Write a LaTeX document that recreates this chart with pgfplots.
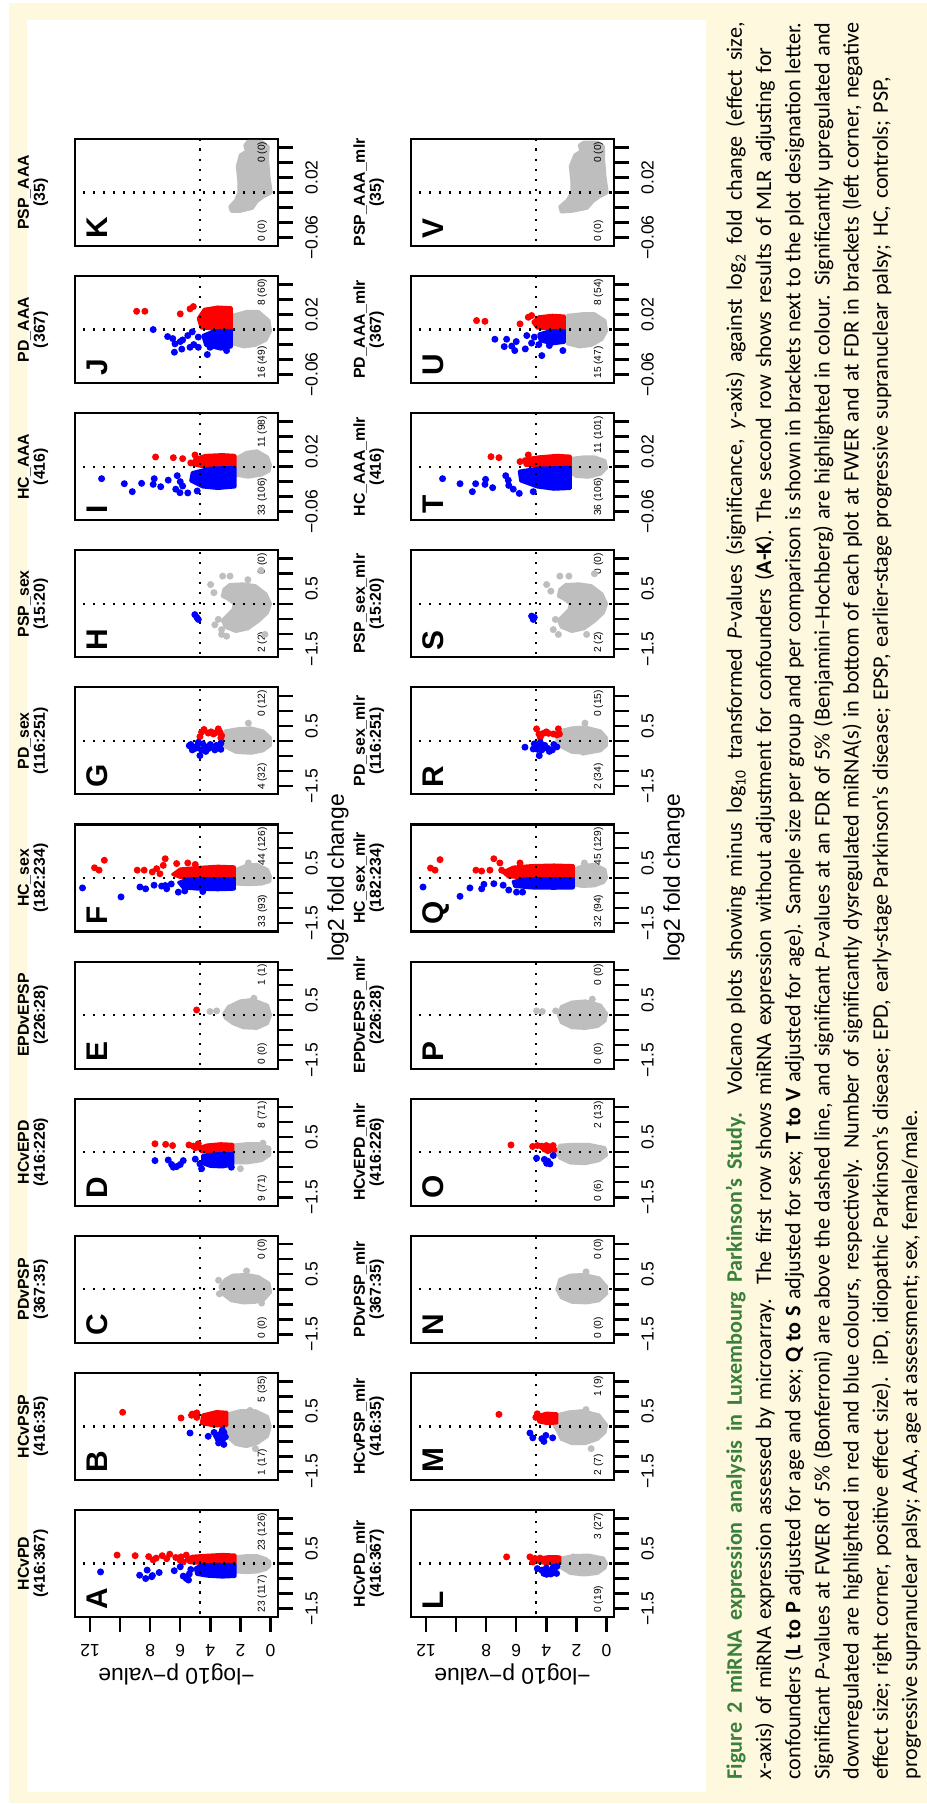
\documentclass[border=0pt]{standalone}
\usepackage{graphicx}
\usepackage{pgfplots}
\pgfplotsset{compat=1.18}
\usepackage{fontspec}
\setmainfont{Liberation Sans}
\newfontfamily\capfont{Carlito}
\definecolor{Rgray}{RGB}{190,190,190}
\definecolor{Rred}{RGB}{255,0,0}
\definecolor{Rblue}{RGB}{0,0,255}
\definecolor{cream}{RGB}{254,248,222}
\definecolor{capgreen}{RGB}{58,128,60}

\pgfplotsset{
  vol/.style={scale only axis, width=10.7mm, height=20.3mm, anchor=south west,
    ymin=-0.5, ymax=13, ytick=\empty,
    axis line style={line width=0.6pt},
    tick align=outside, xtick pos=left, ytick pos=left,
    major tick length=1.5mm, tick style={black, line width=0.7pt},
    ticklabel style={font=\fontsize{5}{6}\selectfont},
    scaled x ticks=false,
    title style={font=\fontsize{4.5}{4.6}\selectfont\bfseries, align=center,
      at={(0.5,1)}, anchor=south, inner sep=0pt, yshift=0.5mm}},
  fc/.style={xmin=-1.78, xmax=1.78, xtick={-1.5,-1,-0.5,0,0.5,1,1.5},
    xticklabels={−1.5,,,,0.5,,}},
  aaa/.style={xmin=-0.0713, xmax=0.0713, xtick={-0.06,-0.04,-0.02,0,0.02,0.04,0.06},
    xticklabels={−0.06,,,,0.02,,}},
  yax/.style={ytick={0,2,4,6,8,10,12}, yticklabels={0,2,4,6,8,,12},
    yticklabel style={rotate=90, anchor=south},
    ylabel={−log10 p−value},
    ylabel style={at={(axis description cs:-0.54,0.5)}, anchor=center,
      font=\fontsize{6.5}{7}\selectfont}},
  xlab/.style={xlabel={log2 fold change},
    xlabel style={at={(axis description cs:0.5,-0.296)}, anchor=center,
      font=\fontsize{6.5}{7}\selectfont}},
}
% filled cloud of dense points, and single points
\newcommand\cld[2]{\addplot[fill=#1, draw=#1, line width=0.9pt, line join=round, mark=none] coordinates {#2} --cycle;}
\newcommand\pts[2]{\addplot[only marks, mark=*, mark size=0.78pt, color=#1, mark options={draw=none, fill=#1}] coordinates {#2};}
\newcommand\deco[3]{%
  \addplot[black, line width=0.65pt, dash pattern=on 0.6pt off 2.25pt, mark=none] coordinates {(0,-1)(0,14)};
  \addplot[black, line width=0.65pt, dash pattern=on 0.6pt off 2.25pt, mark=none] coordinates {(-2,4.69)(2,4.69)};
  \node[font=\fontsize{8.5}{9}\selectfont\bfseries, anchor=base west, inner sep=0pt] at (rel axis cs:0.06,0.842) {#1};
  \node[font=\fontsize{2.9}{3}\selectfont, anchor=base west, inner sep=0pt] at (rel axis cs:0.035,0.064) {#2};
  \node[font=\fontsize{2.9}{3}\selectfont, anchor=base east, inner sep=0pt] at (rel axis cs:0.98,0.064) {#3};}

\begin{document}
\rotatebox{90}{%
\begin{tikzpicture}
\fill[white] (0,0) rectangle (180.4mm,92.7mm);
\fill[cream] (0.1mm,0mm) rectangle (180.1mm,91.8mm);
\fill[white] (1.2mm,22.1mm) rectangle (178.4mm,90.0mm);
\useasboundingbox (0,0) rectangle (180.4mm,92.7mm);

% ---------------- first row ----------------
\begin{axis}[vol, fc, yax, at={(18.7mm,64.9mm)}, title={HCvPD\\(416:367)}]
\cld{Rgray}{(0.05,2.45)(0.22,2.3)(0.26,1.6)(0.26,0.9)(0.16,0.3)(0.06,0.05)(-0.08,0.05)(-0.2,0.3)(-0.28,0.9)(-0.3,1.6)(-0.28,2.3)(-0.1,2.45)}
\cld{Rred}{(0.0,2.35)(0.28,2.35)(0.3,3.2)(0.27,4.3)(0.24,5.2)(0.14,5.6)(0.03,5.4)(0.0,4.5)}
\pts{Rred}{(0.28,10.2)(0.26,9.0)(0.23,8.1)(0.12,7.8)(0.18,7.6)(0.26,7.2)(0.31,6.7)(0.20,6.3)(0.22,5.95)(0.10,6.0)(0.28,5.6)(0.05,5.8)(0.16,6.9)}
\cld{Rblue}{(-0.03,2.35)(-0.43,2.35)(-0.45,3.2)(-0.42,4.2)(-0.36,4.9)(-0.15,5.0)(-0.05,4.6)(-0.03,3.5)}
\pts{Rblue}{(-0.28,11.3)(-0.39,8.7)(-0.22,8.2)(-0.50,8.3)(-0.44,7.9)(-0.40,7.85)(-0.30,7.4)(-0.24,6.4)(-0.11,6.0)(-0.42,5.8)(-0.50,5.6)(-0.55,5.45)(-0.35,5.4)(-0.2,5.3)}
\deco{A}{23 (117)}{23 (126)}
\end{axis}

\begin{axis}[vol, fc, at={(32.41mm,64.9mm)}, title={HCvPSP\\(416:35)}]
\cld{Rgray}{(0.10,3.0)(0.42,2.8)(0.52,2.0)(0.52,1.0)(0.33,0.2)(0.0,0.02)(-0.33,0.2)(-0.57,0.9)(-0.67,1.6)(-0.6,2.3)(-0.33,2.9)}
\pts{Rgray}{(0.53,1.36)(-0.74,1.0)}
\cld{Rred}{(0.03,2.9)(0.47,2.9)(0.49,3.6)(0.38,4.5)(0.10,4.6)(0.02,3.8)}
\pts{Rred}{(0.47,9.83)(0.28,5.95)(0.37,5.25)(0.41,5.2)(0.45,4.9)(0.3,4.9)}
\pts{Rblue}{(-0.22,5.35)(-0.33,4.14)(-0.2,3.75)(-0.3,3.6)(-0.4,3.5)(-0.55,3.45)(-0.45,3.2)(-0.35,3.0)(-0.2,3.1)(-0.12,3.2)(-0.6,3.1)(-0.25,3.3)}
\deco{B}{1 (17)}{5 (35)}
\end{axis}

\begin{axis}[vol, fc, at={(46.12mm,64.9mm)}, title={PDvPSP\\(367:35)}]
\cld{Rgray}{(0.1,3.35)(0.33,3.0)(0.47,2.5)(0.49,1.6)(0.42,0.8)(0.2,0.1)(-0.1,0.0)(-0.33,0.4)(-0.43,1.0)(-0.45,1.8)(-0.38,2.6)(-0.15,3.2)}
\pts{Rgray}{(0.61,1.59)(-0.46,0.59)(0.3,3.45)(-0.15,3.4)}
\deco{C}{0 (0)}{0 (0)}
\end{axis}

\begin{axis}[vol, fc, at={(59.83mm,64.9mm)}, title={HCvEPD\\(416:226)}]
\cld{Rgray}{(0.0,2.75)(0.23,2.6)(0.28,1.6)(0.28,0.8)(0.15,0.05)(-0.1,0.05)(-0.28,0.6)(-0.35,1.5)(-0.35,2.3)(-0.2,2.7)}
\pts{Rgray}{(-0.55,2.0)(0.3,0.5)}
\cld{Rred}{(0.0,2.5)(0.26,2.5)(0.28,3.3)(0.24,4.2)(0.14,4.8)(0.02,4.6)}
\pts{Rred}{(0.28,7.68)(0.26,6.97)(0.22,6.51)(0.24,5.42)(0.2,5.13)(0.28,4.8)(0.15,5.0)}
\cld{Rblue}{(-0.05,2.5)(-0.42,2.5)(-0.49,3.2)(-0.47,4.0)(-0.38,4.5)(-0.1,4.5)(-0.05,3.5)}
\pts{Rblue}{(-0.28,7.68)(-0.26,6.8)(-0.41,6.57)(-0.5,6.46)(-0.48,6.24)(-0.41,6.0)(-0.28,5.8)(-0.23,5.0)(-0.39,4.69)(-0.55,4.58)(-0.5,2.6)}
\deco{D}{9 (71)}{8 (71)}
\end{axis}

\begin{axis}[vol, fc, at={(73.54mm,64.9mm)}, title={EPDvEPSP\\(226:28)}]
\cld{Rgray}{(0.05,3.1)(0.28,2.8)(0.47,2.0)(0.52,1.2)(0.33,0.2)(0.0,0.0)(-0.28,0.2)(-0.44,0.9)(-0.42,1.8)(-0.28,2.5)(-0.1,3.0)}
\pts{Rgray}{(0.12,4.02)(0.14,3.58)(0.56,1.1)}
\pts{Rred}{(0.17,4.91)}
\deco{E}{0 (0)}{1 (1)}
\end{axis}

\begin{axis}[vol, fc, xlab, at={(87.25mm,64.9mm)}, title={HC\_sex\\(182:234)}]
\cld{Rgray}{(0.02,2.45)(0.28,2.3)(0.42,1.6)(0.45,0.9)(0.28,0.2)(0.05,0.0)(-0.12,0.05)(-0.2,0.6)(-0.22,1.5)(-0.2,2.3)}
\pts{Rgray}{(0.5,1.47)}
\cld{Rred}{(0.0,2.4)(0.37,2.4)(0.39,3.5)(0.35,4.8)(0.3,6.0)(0.12,6.5)(0.02,6.0)}
\pts{Rred}{(0.34,11.7)(0.26,11.4)(0.59,11.05)(0.26,8.86)(0.26,8.4)(0.2,7.86)(0.31,7.57)(0.14,7.35)(0.42,7.13)(0.64,7.0)(0.48,6.24)(0.5,5.5)(0.45,5.0)}
\cld{Rblue}{(-0.02,2.4)(-0.37,2.4)(-0.39,3.5)(-0.37,4.8)(-0.33,5.8)(-0.15,6.1)(-0.03,5.5)}
\pts{Rblue}{(-0.33,12.5)(-0.63,9.94)(-0.3,8.68)(-0.36,8.3)(-0.24,7.74)(-0.27,7.24)(-0.36,6.9)(-0.47,6.13)(-0.43,5.7)(-0.2,6.6)(-0.25,7.0)(-0.45,4.5)}
\deco{F}{33 (93)}{44 (126)}
\end{axis}

\begin{axis}[vol, fc, at={(100.96mm,64.9mm)}, title={PD\_sex\\(116:251)}]
\cld{Rgray}{(0.05,3.2)(0.33,3.0)(0.4,2.2)(0.43,1.3)(0.33,0.5)(0.1,0.0)(-0.15,0.0)(-0.33,0.5)(-0.41,1.3)(-0.38,2.3)(-0.2,3.0)}
\pts{Rgray}{(0.59,1.47)}
\pts{Rred}{(0.14,4.69)(0.29,4.58)(0.38,4.42)(0.26,4.14)(0.3,3.95)(0.26,3.69)(0.23,3.8)(0.4,3.47)(0.29,3.36)(0.18,3.25)(0.1,3.3)}
\pts{Rblue}{(-0.16,5.4)(-0.12,5.3)(-0.2,5.2)(-0.25,5.0)(-0.18,4.9)(-0.49,4.69)(-0.3,4.6)(-0.1,4.5)(-0.2,4.3)(-0.25,4.1)(-0.12,4.0)(-0.22,3.8)(-0.3,3.7)(-0.15,3.6)(-0.2,3.4)(-0.08,3.3)(-0.28,3.3)(-0.05,4.8)(-0.35,4.3)(-0.3,5.2)}
\deco{G}{4 (32)}{0 (12)}
\end{axis}

\begin{axis}[vol, fc, at={(114.67mm,64.9mm)}, title={PSP\_sex\\(15:20)}]
\cld{Rgray}{(0.0,0.0)(0.33,0.3)(0.6,1.0)(0.66,1.8)(0.64,2.7)(0.48,3.1)(0.25,3.2)(0.15,2.8)(0.0,2.4)(-0.2,2.5)(-0.4,2.9)(-0.55,3.2)(-0.78,3.0)(-0.92,2.3)(-0.83,1.5)(-0.58,0.8)(-0.3,0.2)}
\pts{Rgray}{(0.64,3.98)(0.37,3.76)(0.92,3.18)(0.92,2.69)(-0.52,3.47)(-0.86,3.25)(-1.08,2.92)(-1.02,3.25)(1.11,0.63)(-1.02,0.37)(0.8,1.5)(-0.7,3.7)}
\pts{Rblue}{(-0.36,5.03)(-0.52,4.8)(-0.45,4.9)}
\deco{H}{2 (2)}{0 (0)}
\end{axis}

\begin{axis}[vol, aaa, at={(128.38mm,64.9mm)}, title={HC\_AAA\\(416)}]
\cld{Rgray}{(0.001,2.45)(0.011,2.3)(0.019,1.6)(0.021,0.9)(0.013,0.2)(0.002,0.0)(-0.006,0.1)(-0.011,0.6)(-0.014,1.5)(-0.011,2.3)}
\cld{Rred}{(0.0,2.36)(0.015,2.36)(0.016,3.2)(0.015,4.3)(0.011,5.0)(0.003,5.2)(0.0,4.5)}
\pts{Rred}{(0.0129,7.64)(0.012,6.46)(0.0107,5.84)(0.0156,5.02)(0.005,5.3)}
\cld{Rblue}{(-0.001,2.36)(-0.027,2.36)(-0.029,3.5)(-0.027,4.5)(-0.019,5.3)(-0.008,5.2)(-0.002,4.0)}
\pts{Rblue}{(-0.016,11.23)(-0.0227,9.72)(-0.0333,9.19)(-0.0222,8.57)(-0.0236,7.8)(-0.016,7.73)(-0.0267,7.3)(-0.018,6.8)(-0.0347,6.02)(-0.0258,5.84)(-0.0324,4.87)(-0.03,6.3)(-0.012,6.2)(-0.035,5.5)(-0.02,6.0)}
\deco{I}{33 (106)}{11 (98)}
\end{axis}

\begin{axis}[vol, aaa, at={(142.09mm,64.9mm)}, title={PD\_AAA\\(367)}]
\cld{Rgray}{(0.003,2.7)(0.019,2.5)(0.024,1.6)(0.024,0.8)(0.012,0.1)(-0.002,0.0)(-0.014,0.3)(-0.021,1.0)(-0.023,1.8)(-0.019,2.5)}
\cld{Rred}{(0.0,2.6)(0.029,2.6)(0.03,3.5)(0.027,4.4)(0.015,4.8)(0.002,4.6)}
\pts{Rred}{(0.0244,8.9)(0.0244,8.35)(0.0209,6.0)(0.0276,5.35)(0.0307,5.13)}
\cld{Rblue}{(-0.001,2.6)(-0.023,2.6)(-0.026,3.3)(-0.021,4.3)(-0.008,4.5)(-0.002,3.8)}
\pts{Rblue}{(0,7.8)(-0.0093,6.84)(-0.019,6.35)(-0.0302,6.39)(-0.0138,5.84)(-0.0236,5.35)(-0.0236,4.8)(-0.0333,4.2)(-0.0236,4.02)(-0.028,2.92)(-0.012,6.5)(-0.016,6.0)(-0.008,5.5)(-0.026,5.9)(-0.02,5.1)(-0.01,4.8)(-0.003,5.2)}
\deco{J}{16 (49)}{8 (60)}
\end{axis}

\begin{axis}[vol, aaa, at={(155.8mm,64.9mm)}, title={PSP\_AAA\\(35)}]
\cld{Rgray}{(0.0,-0.05)(0.02,0.1)(0.045,0.2)(0.061,0.15)(0.068,0.6)(0.068,1.5)(0.063,1.7)(0.055,1.6)(0.05,2.0)(0.035,2.2)(0.015,2.1)(0.0,2.1)(-0.01,2.3)(-0.019,2.7)(-0.025,2.6)(-0.025,2.0)(-0.021,1.2)(-0.012,0.9)(-0.006,0.5)(-0.002,0.1)}
\deco{K}{0 (0)}{0 (0)}
\end{axis}

% ---------------- second row ----------------
\begin{axis}[vol, fc, yax, at={(18.7mm,31.3mm)}, title={HCvPD\_mlr\\(416:367)}]
\cld{Rgray}{(0.0,3.2)(0.18,3.0)(0.26,2.2)(0.28,1.2)(0.18,0.2)(0.0,0.0)(-0.15,0.1)(-0.33,0.6)(-0.38,1.5)(-0.33,2.4)(-0.15,3.0)}
\pts{Rgray}{(0.22,2.2)}
\cld{Rred}{(0.0,3.1)(0.22,3.1)(0.23,3.8)(0.18,4.5)(0.05,4.6)(0.0,4.0)}
\pts{Rred}{(0.22,6.64)(0.22,5.09)(0.17,4.76)(0.18,4.42)(0.05,4.9)}
\pts{Rblue}{(-0.17,4.6)(-0.33,4.16)(-0.36,3.98)(-0.33,3.32)(-0.13,3.54)(-0.25,3.9)(-0.2,3.6)(-0.3,3.5)(-0.1,3.3)(-0.35,3.7)(-0.15,4.0)(-0.22,4.3)}
\deco{L}{0 (19)}{3 (27)}
\end{axis}

\begin{axis}[vol, fc, at={(32.41mm,31.3mm)}, title={HCvPSP\_mlr\\(416:35)}]
\cld{Rgray}{(0.0,3.45)(0.38,3.3)(0.48,2.5)(0.52,1.6)(0.38,0.5)(0.05,0.0)(-0.2,0.1)(-0.43,0.6)(-0.57,1.4)(-0.57,2.3)(-0.43,3.0)(-0.2,3.2)}
\pts{Rgray}{(0.56,1.36)(-0.74,1.02)}
\cld{Rred}{(0.11,3.3)(0.42,3.3)(0.44,4.0)(0.36,4.5)(0.15,4.5)(0.1,4.0)}
\pts{Rred}{(0.4,7.15)(0.3,4.7)(0.42,4.6)}
\pts{Rblue}{(-0.22,5.09)(-0.38,4.9)(-0.41,4.3)(-0.5,4.16)(-0.3,4.03)(-0.38,3.58)}
\deco{M}{2 (7)}{1 (9)}
\end{axis}

\begin{axis}[vol, fc, at={(46.12mm,31.3mm)}, title={PDvPSP\_mlr\\(367:35)}]
\cld{Rgray}{(0.0,3.3)(0.33,3.1)(0.47,2.4)(0.49,1.5)(0.38,0.5)(0.1,0.0)(-0.15,0.0)(-0.38,0.5)(-0.45,1.3)(-0.43,2.3)(-0.28,3.0)}
\pts{Rgray}{(0.58,1.36)}
\deco{N}{0 (0)}{0 (0)}
\end{axis}

\begin{axis}[vol, fc, at={(59.83mm,31.3mm)}, title={HCvEPD\_mlr\\(416:226)}]
\cld{Rgray}{(0.0,3.3)(0.23,3.1)(0.26,2.2)(0.26,1.2)(0.15,0.1)(-0.1,0.0)(-0.28,0.5)(-0.38,1.4)(-0.36,2.4)(-0.2,3.1)}
\pts{Rred}{(0.24,6.35)(0.19,4.91)(0.22,4.6)(0.2,4.3)(0.15,4.2)(0.1,4.1)(0.22,4.0)(0.18,3.8)(0.05,3.9)(0.12,3.7)(0.22,3.55)(0.08,3.5)}
\pts{Rblue}{(-0.2,4.65)(-0.24,4.13)(-0.37,3.98)(-0.39,3.76)(-0.11,3.54)(-0.3,3.9)}
\deco{O}{0 (6)}{2 (13)}
\end{axis}

\begin{axis}[vol, fc, at={(73.54mm,31.3mm)}, title={EPDvEPSP\_mlr\\(226:28)}]
\cld{Rgray}{(0.0,3.2)(0.28,3.0)(0.43,2.3)(0.47,1.4)(0.33,0.4)(0.05,0.0)(-0.2,0.1)(-0.38,0.6)(-0.44,1.4)(-0.42,2.3)(-0.25,3.0)}
\pts{Rgray}{(0.14,4.65)(0.12,4.27)(0.14,3.38)(0.53,0.94)}
\deco{P}{0 (0)}{0 (0)}
\end{axis}

\begin{axis}[vol, fc, xlab, at={(87.25mm,31.3mm)}, title={HC\_sex\_mlr\\(182:234)}]
\cld{Rgray}{(0.0,2.3)(0.28,2.2)(0.42,1.5)(0.45,0.8)(0.28,0.1)(0.0,0.0)(-0.15,0.2)(-0.26,0.8)(-0.28,1.6)(-0.23,2.2)}
\pts{Rgray}{(0.5,1.47)}
\cld{Rred}{(0.0,2.2)(0.41,2.2)(0.43,3.5)(0.41,5.0)(0.36,6.2)(0.2,6.9)(0.03,6.5)}
\pts{Rred}{(0.33,11.7)(0.26,11.4)(0.61,11.07)(0.26,8.68)(0.23,8.3)(0.26,7.75)(0.64,7.49)(0.5,7.09)(0.26,6.97)(0.5,5.75)}
\cld{Rblue}{(-0.02,2.2)(-0.33,2.2)(-0.34,3.5)(-0.33,5.0)(-0.28,6.1)(-0.12,6.2)(-0.03,5.5)}
\pts{Rblue}{(-0.3,12.2)(-0.61,9.74)(-0.33,9.08)(-0.36,8.3)(-0.21,8.15)(-0.19,7.49)(-0.24,6.87)(-0.47,5.98)(-0.47,5.58)(-0.4,6.5)}
\deco{Q}{32 (94)}{45 (129)}
\end{axis}

\begin{axis}[vol, fc, at={(100.96mm,31.3mm)}, title={PD\_sex\_mlr\\(116:251)}]
\cld{Rgray}{(0.05,3.3)(0.33,3.1)(0.43,2.3)(0.46,1.4)(0.33,0.4)(0.1,0.0)(-0.15,0.0)(-0.33,0.4)(-0.41,1.3)(-0.38,2.3)(-0.2,3.0)}
\pts{Rgray}{(0.59,1.43)(-0.38,1.54)}
\pts{Rred}{(0.4,4.65)(0.23,4.49)(0.25,4.2)(0.25,3.86)(0.23,3.53)(0.4,3.2)(0.23,3.13)(0.3,4.0)(0.12,4.4)(0.2,3.3)}
\pts{Rblue}{(-0.21,5.42)(-0.27,4.87)(-0.49,4.47)(-0.1,4.8)(-0.2,4.5)(-0.3,4.3)(-0.15,4.1)(-0.25,3.9)(-0.3,3.6)(-0.12,3.5)(-0.2,3.3)(-0.05,4.4)(-0.35,3.8)(-0.28,4.6)}
\deco{R}{2 (34)}{0 (15)}
\end{axis}

\begin{axis}[vol, fc, at={(114.67mm,31.3mm)}, title={PSP\_sex\_mlr\\(15:20)}]
\cld{Rgray}{(0.0,0.0)(0.33,0.3)(0.6,1.0)(0.66,1.8)(0.64,2.7)(0.48,3.1)(0.25,3.2)(0.15,2.8)(0.0,2.4)(-0.2,2.5)(-0.4,2.9)(-0.55,3.2)(-0.78,3.0)(-0.92,2.3)(-0.83,1.5)(-0.58,0.8)(-0.3,0.2)}
\pts{Rgray}{(0.64,3.98)(0.42,3.7)(0.92,3.1)(0.92,2.5)(-0.52,3.4)(-0.86,3.54)(-1.02,3.2)(-1.02,1.32)(1.0,0.8)}
\pts{Rblue}{(-0.41,4.98)(-0.52,4.87)(-0.45,4.8)}
\deco{S}{2 (2)}{0 (0)}
\end{axis}

\begin{axis}[vol, aaa, at={(128.38mm,31.3mm)}, title={HC\_AAA\_mlr\\(416)}]
\cld{Rgray}{(0.0,2.45)(0.011,2.3)(0.013,1.5)(0.013,0.8)(0.008,0.1)(-0.002,0.0)(-0.01,0.4)(-0.014,1.2)(-0.013,2.0)(-0.008,2.4)}
\cld{Rred}{(0.0,2.4)(0.014,2.4)(0.015,3.3)(0.013,4.5)(0.01,5.5)(0.002,5.4)(0.0,4.5)}
\pts{Rred}{(0.0133,7.68)(0.012,7.15)(0.0067,5.75)(0.0156,5.2)}
\cld{Rblue}{(-0.001,2.4)(-0.029,2.4)(-0.03,3.5)(-0.027,4.6)(-0.019,5.7)(-0.006,5.8)(-0.002,4.5)}
\pts{Rblue}{(-0.016,10.9)(-0.0227,9.74)(-0.0333,8.92)(-0.0227,8.7)(-0.0169,8.04)(-0.0236,8.08)(-0.028,7.57)(-0.018,6.53)(-0.0356,5.8)(-0.0333,4.87)(-0.012,6.7)(-0.03,6.2)(-0.025,6.5)}
\deco{T}{36 (106)}{11 (101)}
\end{axis}

\begin{axis}[vol, aaa, at={(142.09mm,31.3mm)}, title={PD\_AAA\_mlr\\(367)}]
\cld{Rgray}{(0.003,2.8)(0.019,2.6)(0.021,1.6)(0.021,0.8)(0.012,0.1)(-0.002,0.0)(-0.013,0.3)(-0.021,1.0)(-0.023,1.8)(-0.019,2.6)}
\cld{Rred}{(0.0,2.8)(0.018,2.8)(0.019,3.6)(0.017,4.5)(0.01,4.9)(0.002,4.6)}
\pts{Rred}{(0.012,8.64)(0.011,8.08)(0.0076,5.75)(0.0164,5.2)(0.0187,4.98)}
\cld{Rblue}{(-0.001,2.8)(-0.017,2.8)(-0.019,3.6)(-0.015,4.4)(-0.006,4.5)(-0.002,3.8)}
\pts{Rblue}{(-0.0129,7.42)(-0.0227,6.8)(-0.0129,6.64)(-0.028,6.1)(-0.016,6.0)(-0.0258,5.4)(-0.018,4.98)(-0.0347,4.3)(-0.0213,3.8)(-0.0147,3.5)(-0.028,2.9)(-0.008,5.3)(-0.01,4.8)(-0.022,6.3)(-0.02,4.5)}
\deco{U}{15 (47)}{8 (54)}
\end{axis}

\begin{axis}[vol, aaa, at={(155.8mm,31.3mm)}, title={PSP\_AAA\_mlr\\(35)}]
\cld{Rgray}{(0.0,-0.05)(0.02,0.1)(0.045,0.2)(0.061,0.2)(0.067,0.6)(0.067,1.5)(0.063,1.8)(0.055,1.7)(0.05,2.1)(0.035,2.4)(0.015,2.3)(0.0,2.3)(-0.01,2.6)(-0.019,3.1)(-0.026,3.0)(-0.025,2.3)(-0.021,1.3)(-0.012,0.9)(-0.006,0.5)(-0.002,0.1)}
\deco{V}{0 (0)}{0 (0)}
\end{axis}

% ---------------- caption ----------------
\node[anchor=base west, inner sep=0pt, text width=175.7mm, align=justify,
  font=\capfont\fontsize{6.3}{8.3}\selectfont] at (2.4mm,18.5mm) {%
{\color{capgreen}\bfseries Figure 2 miRNA expression analysis in Luxembourg Parkinson’s Study.} Volcano plots showing minus log\textsubscript{10} transformed \textit{P}-values (significance, \textit{y}-axis) against log\textsubscript{2} fold change (effect size,\linebreak
\textit{x}-axis) of miRNA expression assessed by microarray. The first row shows miRNA expression without adjustment for confounders (\textbf{A-K}). The second row shows results of MLR adjusting for\hspace*{2.5mm}\linebreak
confounders (\textbf{L to P} adjusted for age and sex; \textbf{Q to S} adjusted for sex; \textbf{T to V} adjusted for age). Sample size per group and per comparison is shown in brackets next to the plot designation letter.\linebreak
Significant \textit{P}-values at FWER of 5\% (Bonferroni) are above the dashed line, and significant \textit{P}-values at an FDR of 5\% (Benjamini–Hochberg) are highlighted in colour. Significantly upregulated and\linebreak
downregulated are highlighted in red and blue colours, respectively. Number of significantly dysregulated miRNA(s) in bottom of each plot at FWER and at FDR in brackets (left corner, negative\linebreak
effect size; right corner, positive effect size). iPD, idiopathic Parkinson’s disease; EPD, early-stage Parkinson’s disease; EPSP, earlier-stage progressive supranuclear palsy; HC, controls; PSP,\hspace*{5.5mm}\linebreak
progressive supranuclear palsy; AAA, age at assessment; sex, female/male.};
\end{tikzpicture}}
\end{document}
